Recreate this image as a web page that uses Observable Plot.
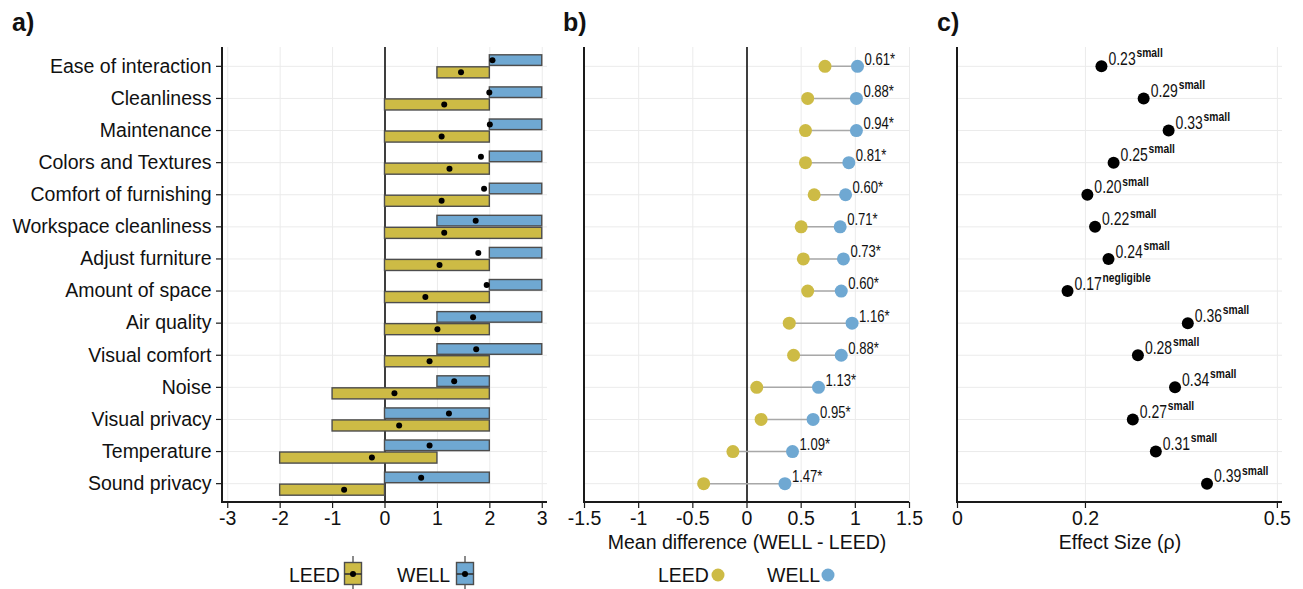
<!DOCTYPE html>
<html><head><meta charset="utf-8">
<script src="https://cdn.jsdelivr.net/npm/d3@7"></script>
<script src="https://cdn.jsdelivr.net/npm/@observablehq/plot@0.6"></script>
<style>
html,body{margin:0;padding:0;background:#fff;}
#wrap{position:relative;width:1303px;height:589px;overflow:hidden;font-family:"Liberation Sans",Arial,sans-serif;color:#111;}
#wrap > svg, #wrap > div{position:absolute;top:0;}
.lbl{position:absolute;font-weight:bold;font-size:25px;}
</style></head>
<body><div id="wrap"></div>
<script>
const categories = ["Ease of interaction","Cleanliness","Maintenance","Colors and Textures","Comfort of furnishing","Workspace cleanliness","Adjust furniture","Amount of space","Air quality","Visual comfort","Noise","Visual privacy","Temperature","Sound privacy"];
// panel a: box statistics
const leedQ1   = [1,0,0,0,0,0,0,0,0,0,-1,-1,-2,-2];
const leedMed  = [2,1,1,2,1,2,1,1,1,1,0,0,0,-1];
const leedQ3   = [2,2,2,2,2,3,2,2,2,2,2,2,1,0];
const leedMean = [1.45,1.13,1.08,1.23,1.08,1.13,1.04,0.77,1.0,0.85,0.18,0.27,-0.25,-0.78];
const wellQ1   = [2,2,2,2,2,1,2,2,1,1,1,0,0,0];
const wellMed  = [2,2,2,2,2,2,2,2,2,2,2,2,1,1];
const wellQ3   = [3,3,3,3,3,3,3,3,3,3,2,2,2,2];
const wellMean = [2.05,1.99,2.0,1.83,1.89,1.73,1.78,1.94,1.68,1.74,1.32,1.22,0.85,0.69];
const aTicks = [-3,-2,-1,0,1,2,3];
// panel b
const bLeed = [0.72,0.56,0.54,0.54,0.62,0.50,0.52,0.56,0.39,0.43,0.09,0.13,-0.13,-0.40];
const bWell = [1.02,1.01,1.01,0.94,0.91,0.86,0.89,0.87,0.97,0.87,0.66,0.61,0.42,0.35];
const diffLabels = ["0.61*","0.88*","0.94*","0.81*","0.60*","0.71*","0.73*","0.60*","1.16*","0.88*","1.13*","0.95*","1.09*","1.47*"];
const bTicks = [-1.5,-1,-0.5,0,0.5,1,1.5];
// panel c
const rho = [0.225,0.291,0.330,0.244,0.203,0.215,0.236,0.172,0.360,0.282,0.340,0.274,0.310,0.390];
const rhoLabels = ["0.23","0.29","0.33","0.25","0.20","0.22","0.24","0.17","0.36","0.28","0.34","0.27","0.31","0.39"];
const magnitude = ["small","small","small","small","small","small","small","negligible","small","small","small","small","small","small"];
const cTicks = [0,0.2,0.5];

const LEED = "#CDBB45", WELL = "#6FA8D2", EDGE = "#4d4d4d", GRID = "#ebebeb";
const FONT = "Liberation Sans, Arial, sans-serif";

const rowsA = categories.map((c,i)=>({c, lq1:leedQ1[i], lmed:leedMed[i], lq3:leedQ3[i], lmean:leedMean[i], wq1:wellQ1[i], wmed:wellMed[i], wq3:wellQ3[i], wmean:wellMean[i]}));
const rowsB = categories.map((c,i)=>({c, leed:bLeed[i], well:bWell[i], lab:diffLabels[i]}));
const rowsC = categories.map((c,i)=>({c, rho:rho[i], lab:rhoLabels[i], mag:magnitude[i]}));

const TOP = 47, BOTTOM = 502, H = 560;
const yScale = {type:"band", domain:categories, range:[TOP,BOTTOM], paddingInner:0.25, paddingOuter:0.212, round:false, label:null};

function axisLines(index, scales, values, dims){
  const ns = "http://www.w3.org/2000/svg";
  const g = document.createElementNS(ns,"g");
  g.setAttribute("stroke","#1a1a1a"); g.setAttribute("stroke-width","2");
  const x0 = dims.marginLeft, x1 = dims.width - dims.marginRight, yb = dims.height - dims.marginBottom;
  const l1 = document.createElementNS(ns,"line");
  l1.setAttribute("x1",x0); l1.setAttribute("x2",x0); l1.setAttribute("y1",dims.marginTop); l1.setAttribute("y2",yb+1);
  const l2 = document.createElementNS(ns,"line");
  l2.setAttribute("x1",x0-1); l2.setAttribute("x2",x1); l2.setAttribute("y1",yb); l2.setAttribute("y2",yb);
  g.append(l1,l2);
  return g;
}

// horizontally condense text of marks tagged with a class (narrow label font)
function condense(svg, cls, k){
  svg.querySelectorAll("." + cls + " text").forEach(t => {
    const tr = t.getAttribute("transform") || "";
    t.setAttribute("transform", tr + ` scale(${k},1)`);
  });
}

const style = {fontFamily:FONT, fontSize:"19.5px", color:"#111", background:"transparent", overflow:"visible"};

// ---------- panel a ----------
const pa = Plot.plot({
  width:560, height:H, marginLeft:222, marginRight:13, marginTop:TOP, marginBottom:H-BOTTOM,
  style,
  x:{domain:[-3.1,3.1], label:null},
  y:yScale,
  marks:[
    Plot.gridX(aTicks,{stroke:GRID, strokeOpacity:1, strokeWidth:1}),
    Plot.gridY({stroke:GRID, strokeOpacity:1, strokeWidth:1}),
    Plot.ruleX([0],{stroke:"#111", strokeWidth:1.6}),
    Plot.rectX(rowsA,{y:"c", x1:"wq1", x2:"wq3", fill:WELL, stroke:EDGE, strokeWidth:1.4, insetTop:1, insetBottom:12.5}),
    Plot.ruleX(rowsA,{y:"c", x:"wmed", stroke:"#333", strokeWidth:2.2, insetTop:1, insetBottom:12.5}),
    Plot.rectX(rowsA,{y:"c", x1:"lq1", x2:"lq3", fill:LEED, stroke:EDGE, strokeWidth:1.4, insetTop:13, insetBottom:0}),
    Plot.ruleX(rowsA,{y:"c", x:"lmed", stroke:"#333", strokeWidth:2.2, insetTop:13, insetBottom:0}),
    Plot.dot(rowsA,{y:"c", x:"wmean", r:3, fill:"#000", dy:-6}),
    Plot.dot(rowsA,{y:"c", x:"lmean", r:3, fill:"#000", dy:6}),
    Plot.axisX({ticks:aTicks, tickFormat:d=>String(d), tickSize:6, tickPadding:3, label:null, stroke:"#1a1a1a", strokeWidth:1.2}),
    Plot.axisY({tickSize:6, tickPadding:5, label:null, stroke:"#1a1a1a", strokeWidth:1.2}),
    axisLines
  ]
});
pa.style.left = "0px";

// ---------- panel b ----------
const pb = Plot.plot({
  width:370, height:H, marginLeft:24, marginRight:21, marginTop:TOP, marginBottom:H-BOTTOM,
  style,
  x:{domain:[-1.5,1.5], label:null},
  y:{...yScale, axis:null},
  marks:[
    Plot.gridX(bTicks,{stroke:GRID, strokeOpacity:1, strokeWidth:1}),
    Plot.gridY({stroke:GRID, strokeOpacity:1, strokeWidth:1}),
    Plot.ruleX([0],{stroke:"#111", strokeWidth:1.6}),
    Plot.ruleY(rowsB,{y:"c", x1:"leed", x2:"well", stroke:"#a8a8a8", strokeWidth:1.5}),
    Plot.dot(rowsB,{y:"c", x:"leed", r:6.5, fill:LEED, stroke:"none"}),
    Plot.dot(rowsB,{y:"c", x:"well", r:6.5, fill:WELL, stroke:"none"}),
    Plot.text(rowsB,{y:"c", x:"well", text:"lab", textAnchor:"start", dx:7, dy:-7, fontSize:17, fill:"#111", className:"narrowb"}),
    Plot.axisX({ticks:bTicks, tickFormat:d=>String(d), tickSize:6, tickPadding:3, label:"Mean difference (WELL - LEED)", labelAnchor:"center", labelArrow:"none", labelOffset:46, stroke:"#1a1a1a", strokeWidth:1.2}),
    axisLines
  ]
});
pb.style.left = "560px";
condense(pb, "narrowb", 0.77);

// ---------- panel c ----------
const pc = Plot.plot({
  width:373, height:H, marginLeft:27, marginRight:21, marginTop:TOP, marginBottom:H-BOTTOM,
  style,
  x:{domain:[0,0.508], label:null},
  y:{...yScale, axis:null},
  marks:[
    Plot.gridX(cTicks,{stroke:GRID, strokeOpacity:1, strokeWidth:1}),
    Plot.gridY({stroke:GRID, strokeOpacity:1, strokeWidth:1}),
    Plot.dot(rowsC,{y:"c", x:"rho", r:6, fill:"#000"}),
    Plot.text(rowsC,{y:"c", x:"rho", text:"lab", textAnchor:"start", dx:7, dy:-7, fontSize:17.5, fill:"#111", className:"narrowc"}),
    Plot.text(rowsC,{y:"c", x:"rho", text:"mag", textAnchor:"start", dx:35, dy:-13, fontSize:12, fontWeight:"bold", fill:"#111", className:"narrowc2"}),
    Plot.axisX({ticks:cTicks, tickFormat:d=>String(d), tickSize:6, tickPadding:3, label:"Effect Size (ρ)", labelAnchor:"center", labelArrow:"none", labelOffset:46, stroke:"#1a1a1a", strokeWidth:1.2}),
    axisLines
  ]
});
pc.style.left = "930px";
condense(pc, "narrowc", 0.8);
condense(pc, "narrowc2", 0.86);

const wrap = document.getElementById("wrap");
wrap.append(pa, pb, pc);

// overlay: panel tags and legends
const ov = document.createElement("div");
ov.style.cssText = "left:0;top:0;width:1303px;height:589px;pointer-events:none;";
ov.innerHTML = `
<div class="lbl" style="left:12px;top:8px;">a)</div>
<div class="lbl" style="left:563px;top:8px;">b)</div>
<div class="lbl" style="left:937px;top:8px;">c)</div>
<svg width="1303" height="589" style="position:absolute;left:0;top:0;font-family:${FONT};font-size:19.5px;fill:#111">
  <text x="289" y="582">LEED</text>
  <line x1="353" x2="353" y1="556" y2="592" stroke="${EDGE}" stroke-width="1.3"/>
  <rect x="344.5" y="562.5" width="17" height="22" fill="${LEED}" stroke="${EDGE}" stroke-width="1.4"/>
  <line x1="344.5" x2="361.5" y1="574" y2="574" stroke="#333" stroke-width="1.6"/>
  <circle cx="353" cy="574" r="3" fill="#000"/>
  <text x="397" y="582">WELL</text>
  <line x1="465" x2="465" y1="556" y2="592" stroke="${EDGE}" stroke-width="1.3"/>
  <rect x="456.5" y="562.5" width="17" height="22" fill="${WELL}" stroke="${EDGE}" stroke-width="1.4"/>
  <line x1="456.5" x2="473.5" y1="574" y2="574" stroke="#333" stroke-width="1.6"/>
  <circle cx="465" cy="574" r="3" fill="#000"/>
  <text x="658" y="582">LEED</text>
  <circle cx="718" cy="575" r="6.5" fill="${LEED}"/>
  <text x="767" y="582">WELL</text>
  <circle cx="828" cy="575" r="6.5" fill="${WELL}"/>
</svg>`;
wrap.append(ov);
</script></body></html>
